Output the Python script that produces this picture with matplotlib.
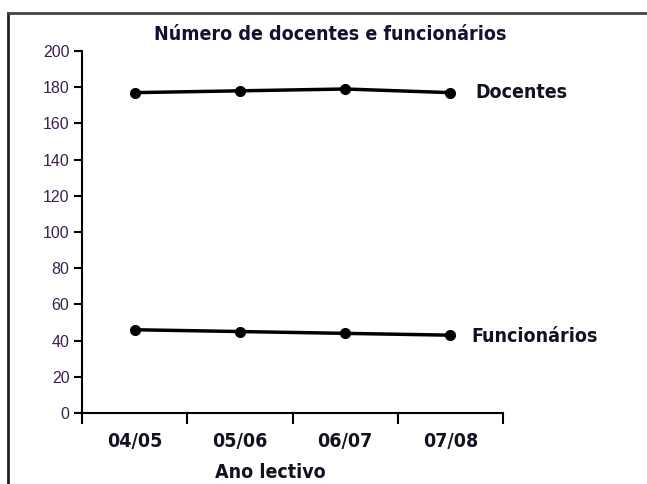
import matplotlib
matplotlib.use("Agg")
import matplotlib.pyplot as plt
from matplotlib.lines import Line2D

# data
anos = ["04/05", "05/06", "06/07", "07/08"]
docentes = [177, 178, 179, 177]
funcionarios = [46, 45, 44, 43]

titulo = "Número de docentes e funcionários"
xlabel = "Ano lectivo"

cond = dict(family="DejaVu Sans", stretch="condensed", fontweight="bold")

fig = plt.figure(figsize=(6.47, 4.84), dpi=100)
ax = fig.add_axes([82 / 647, 1 - 413 / 484, (503 - 82) / 647, (413 - 51) / 484])

x = list(range(len(anos)))
ax.plot(x, docentes, color="black", lw=2.5, marker="o", ms=7, clip_on=False)
ax.plot(x, funcionarios, color="black", lw=2.5, marker="o", ms=7, clip_on=False)

ax.set_xlim(-0.5, len(anos) - 0.5)
ax.set_ylim(0, 200)
ax.set_yticks(range(0, 201, 20))

# ticks on category borders, labels in the middle
ax.set_xticks([i - 0.5 for i in range(len(anos) + 1)])
ax.set_xticklabels([])
ax.set_xticks(x, minor=True)
ax.set_xticklabels(anos, minor=True, fontsize=14, color="#111122", **cond)
ax.tick_params(axis="x", which="minor", length=0, pad=14)
ax.tick_params(axis="x", which="major", length=8, width=1.5, direction="out")
ax.tick_params(axis="y", length=6, width=1.5, direction="out", pad=3,
               labelsize=11.5, labelcolor="#3a2050")
for lab in ax.get_yticklabels():
    lab.set_family(["Liberation Sans", "DejaVu Sans"])

for s in ["top", "right"]:
    ax.spines[s].set_visible(False)
for s in ["left", "bottom"]:
    ax.spines[s].set_linewidth(1.5)

ax.text(3.24, docentes[-1], "Docentes", fontsize=14, va="center", ha="left",
        color="#111122", clip_on=False, **cond)
ax.text(3.2, funcionarios[-1] - 1, "Funcionários", fontsize=14, va="center",
        ha="left", color="#111122", clip_on=False, **cond)

fig.text(330 / 647, 1 - 35 / 484, titulo, fontsize=14, ha="center",
         va="center", color="#111133", **cond)
fig.text(270 / 647, 1 - 473 / 484, xlabel, fontsize=14, ha="center",
         va="center", color="#111122", **cond)

# outer frame (left and top)
fig.add_artist(Line2D([8 / 647, 8 / 647], [0, 1 - 13 / 484], color="#222222", lw=2))
fig.add_artist(Line2D([8 / 647, 1], [1 - 13 / 484, 1 - 13 / 484], color="#444444", lw=2))

fig.savefig("out.png", dpi=100)
